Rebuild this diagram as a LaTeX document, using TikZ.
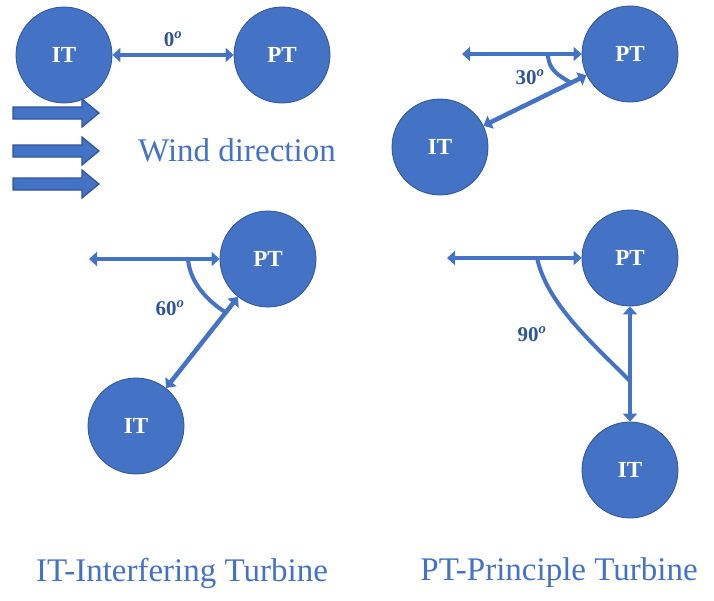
\documentclass[tikz,border=0pt]{standalone}
\usepackage{fontspec}
\setmainfont{Liberation Serif}
\usetikzlibrary{arrows.meta}
\usetikzlibrary{calc}
\definecolor{turbblue}{RGB}{68,114,196}
\definecolor{turbdark}{RGB}{47,85,151}
\tikzset{
  turbine/.style={circle,fill=turbblue,draw=turbdark,line width=0.8pt,minimum size=96pt,inner sep=0pt,text=white,font=\bfseries\fontsize{23}{23}\selectfont},
  link/.style={turbblue,line width=4.5pt,{Triangle[width=14pt,length=8pt]}-{Triangle[width=14pt,length=8pt]}},
  angarc/.style={turbblue,line width=4pt},
  anglabel/.style={text=turbdark,font=\bfseries\fontsize{21}{21}\selectfont},
  caption/.style={text=turbblue,font=\fontsize{33}{33}\selectfont},
  windarrow/.style={fill=turbblue,draw=turbdark,line width=1.2pt}
}
\newcommand{\degs}[1]{#1\textsuperscript{\itshape o}}

\begin{document}
\begin{tikzpicture}[x=1pt,y=-1pt]
    \useasboundingbox (0,0) rectangle (714,600);

    % 0 degrees
    \node[turbine] (it1) at (64,55) {IT};
    \node[turbine] (pt1) at (282,55) {PT};
    \draw[link] (it1) -- node[anglabel,above=3pt] {\degs{0}} (pt1);

    \foreach \y in {113,151,184} {
        \draw[windarrow] (13,\y-6) -- (82,\y-6) -- (82,\y-14) -- (99,\y) -- (82,\y+14) -- (82,\y+6) -- (13,\y+6) -- cycle;
    }
    \node[caption] (wind) at (237,150) {Wind direction};

    % 30 degrees
    \node[turbine] (pt2) at (630,54) {PT};
    \node[turbine] (it2) at (440,147) {IT};
    \coordinate (h2) at (462,54);
    \draw[link] (h2) -- (pt2);
    \draw[link] (it2) -- (pt2);
    \coordinate (a2s) at (548,54);
    \coordinate (a2e) at ($(it2)!0.69!(pt2)$);
    \draw[angarc] (a2s) .. controls +(0,16) and +(-12,-7) .. (a2e);
    \node[anglabel] (l2) at (530,77) {\degs{30}};

    % 60 degrees
    \node[turbine] (pt3) at (268,259) {PT};
    \node[turbine] (it3) at (136,426) {IT};
    \coordinate (h3) at (89,259);
    \draw[link] (h3) -- (pt3);
    \draw[link] (it3) -- (pt3);
    \coordinate (a3s) at (188,259);
    \coordinate (a3e) at ($(pt3)!0.32!(it3)$);
    \draw[angarc] (a3s) .. controls +(2,25) and +(-16,-10) .. (a3e);
    \node[anglabel] (l3) at (170,308) {\degs{60}};

    % 90 degrees
    \node[turbine] (pt4) at (630,258) {PT};
    \node[turbine] (it4) at (630,470) {IT};
    \coordinate (h4) at (447,258);
    \draw[link] (h4) -- (pt4);
    \draw[link] (it4) -- (pt4);
    \coordinate (a4s) at (537,258);
    \coordinate (a4e) at ($(pt4)!0.58!(it4)$);
    \draw[angarc] (a4s) .. controls +(10,45) and +(-40,-40) .. (a4e);
    \node[anglabel] (l4) at (532,334) {\degs{90}};

    \node[caption] (itcap) at (182,573) {IT-Interfering Turbine};
    \node[caption] (ptcap) at (559,573) {PT-Principle Turbine};
\end{tikzpicture}
\end{document}
